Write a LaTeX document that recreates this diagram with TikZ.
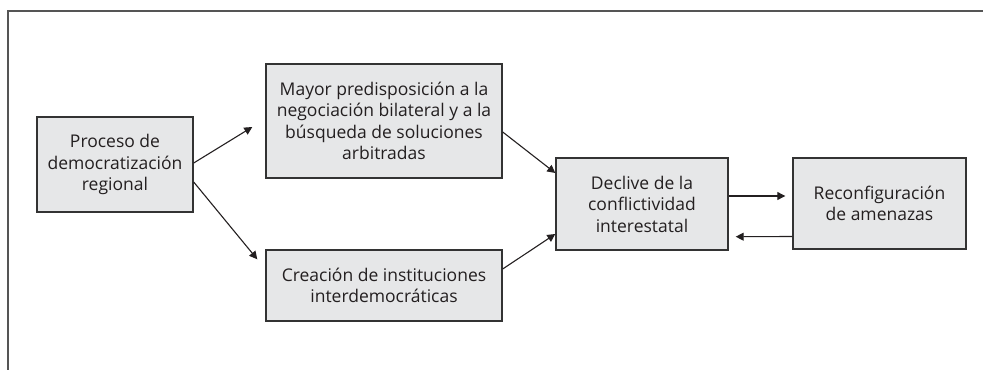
\documentclass[tikz,border=0pt]{standalone}
\usepackage{fontspec}
\setmainfont{Open Sans}
\usetikzlibrary{arrows.meta}
\definecolor{boxfill}{HTML}{E6E7E8}
\definecolor{boxline}{HTML}{333333}
\definecolor{frameline}{HTML}{555555}
\definecolor{txt}{HTML}{231F20}
\begin{document}
\begin{tikzpicture}[x=1pt,y=-1pt,
  stepbox/.style={draw=boxline, line width=1.4pt, fill=boxfill, align=center,
    inner sep=0pt, text=txt, font=\fontsize{17.5}{21.5}\selectfont},
  arr/.style={draw=txt, line width=1.1pt, -{Triangle[length=8pt,width=8pt]}}]
\useasboundingbox (0,0) rectangle (983,370);
\draw[frameline, line width=1.3pt] (983,11) -- (8,11) -- (8,370);
\node[stepbox, minimum width=156pt, minimum height=95pt] (b1) at (115,164.5)
  {Proceso de\\democratización\\regional};
\node[stepbox, minimum width=236pt, minimum height=114pt] (b2) at (384,121)
  {Mayor predisposición a la\\negociación bilateral y a la\\búsqueda de soluciones\\arbitradas};
\node[stepbox, minimum width=236pt, minimum height=71pt] (b3) at (384,285.5)
  {Creación de instituciones\\interdemocráticas};
\node[stepbox, minimum width=172pt, minimum height=92pt] (b4) at (642,204)
  {Declive de la\\conflictividad\\interestatal};
\node[stepbox, minimum width=173pt, minimum height=91pt] (b5) at (879.5,203.5)
  {Reconfiguración\\de amenazas};
\draw[arr] ([shift={(0,-1.5)}]b1.east) -- ([shift={(-13,6)}]b2.west);
\draw[arr] ([shift={(0,17.5)}]b1.east) -- ([shift={(-8,10)}]b3.north west);
\draw[arr] ([shift={(0,11)}]b2.east) -- ([shift={(0,-31)}]b4.west);
\draw[arr] ([shift={(0,-16.5)}]b3.east) -- ([shift={(0,30)}]b4.west);
\draw[arr] ([shift={(0,-8)}]b4.east) -- ([shift={(-7,-7.5)}]b5.west);
\draw[arr] ([shift={(0,33)}]b5.west) -- ([shift={(7,32.7)}]b4.east);
\end{tikzpicture}
\end{document}
